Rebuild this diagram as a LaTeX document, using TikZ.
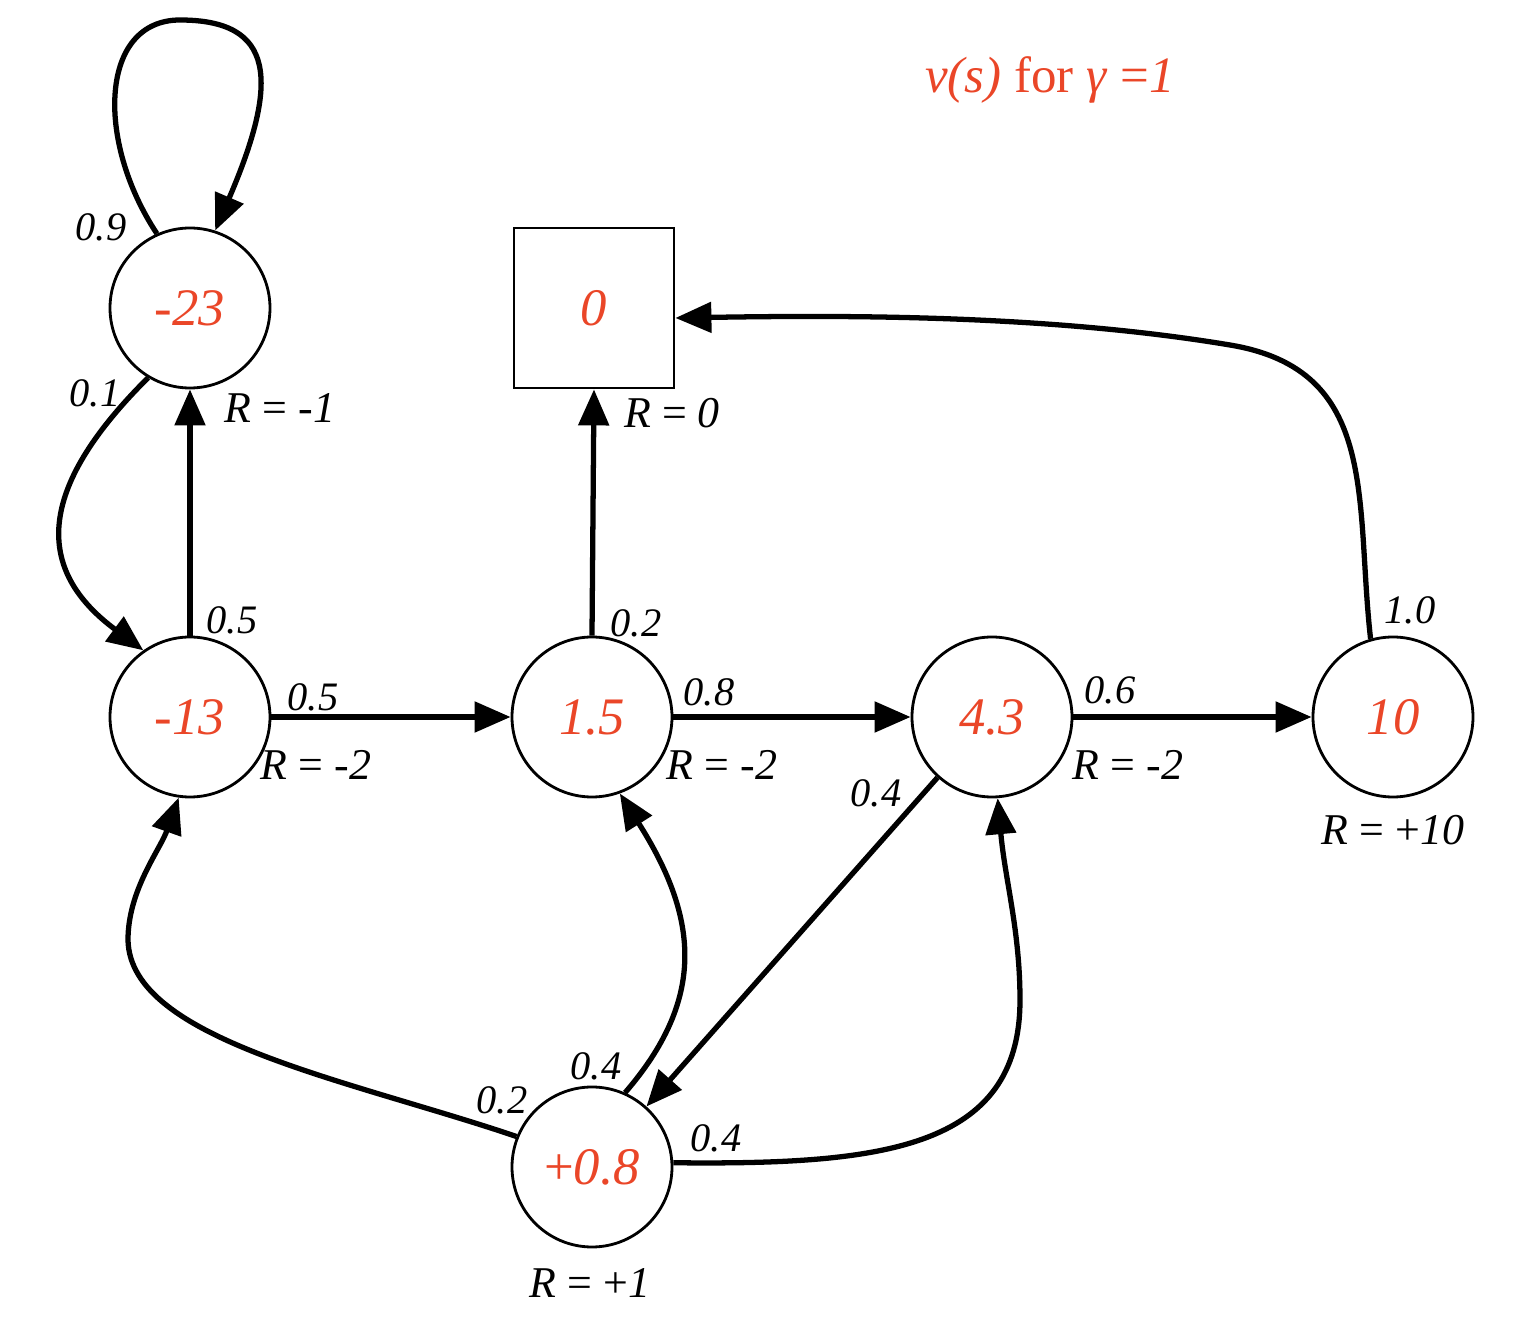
\documentclass[tikz,border=0pt]{standalone}
\usepackage{fontspec}
\setmainfont{Liberation Serif}
\usetikzlibrary{arrows.meta,positioning}
\definecolor{valred}{RGB}{234,70,40}
\newcommand{\upr}[1]{{\upshape #1}}
\newcommand{\rlab}[1]{R \upr{=} #1}

\begin{document}
\begin{tikzpicture}[
    state/.style={draw, circle, line width=0.8pt, minimum size=1.6cm, inner sep=0pt,
      text=valred, font=\fontsize{15}{15}\selectfont\itshape},
    termbox/.style={draw, rectangle, line width=0.8pt, minimum size=1.6cm, inner sep=0pt,
      text=valred, font=\fontsize{15}{15}\selectfont\itshape},
    trans/.style={line width=1.5pt, -{Triangle[length=0.36cm, width=0.3cm]}},
    prob/.style={font=\fontsize{11.5}{11.5}\selectfont\itshape, inner sep=0pt},
    rew/.style={font=\fontsize{12.5}{12.5}\selectfont\itshape, inner sep=0pt}]
        \useasboundingbox (0,0) rectangle (15.14,-13.34);
        \foreach \n/\x/\y/\v in {a/1.90/-3.08/-23, b/1.90/-7.17/-13, c/5.92/-7.17/1.5,
                                 d/9.92/-7.17/4.3, e/13.93/-7.17/10, f/5.92/-11.67/{\upr{+}0.8}}
          \node[state] (\n) at (\x,\y) {\v};
        \node[termbox] (t) at (5.94,-3.08) {0};
        \node[text=valred, font=\fontsize{14.5}{14.5}\selectfont] (title) at (10.50,-0.80)
          {\textit{v(s)} for \textit{γ} =\textit{1}};
        \draw[trans] (a.114) .. controls (0.95,-1.4) and (1.0,-0.2) .. (1.8,-0.2)
          .. controls (2.75,-0.2) and (2.8,-0.8) .. (a.72);
        \draw[trans] (a.239) .. controls (0.35,-4.9) and (0.35,-5.7) .. (b.125);
        \draw[trans] (b.north) -- (a.south);
        \draw[trans] (b.east) -- (c.west);
        \draw[trans] (c.north) -- (t.south);
        \draw[trans] (c.east) -- (d.west);
        \draw[trans] (d.east) -- (e.west);
        \draw[trans] (e.106) .. controls (13.55,-5.0) and (13.8,-3.7) .. (12.3,-3.45)
          .. controls (10.5,-3.15) and (8.5,-3.15) .. (t.-7);
        \draw[trans] (d.228) -- (f.48);
        \draw[trans] (f.158) .. controls (3.5,-10.8) and (1.3,-10.4) .. (1.28,-9.4)
          .. controls (1.28,-8.9) and (1.6,-8.5) .. (b.262);
        \draw[trans] (f.66) .. controls (7.05,-10.0) and (7.0,-9.2) .. (c.-70);
        \draw[trans] (f.3) .. controls (8.8,-11.65) and (10.2,-11.5) .. (10.2,-10.0)
          .. controls (10.2,-9.3) and (10.05,-8.8) .. (d.-86);
        \foreach \x/\y/\p [count=\i] in {1.01/-2.27/0.9, 0.95/-3.93/0.1, 2.32/-6.20/0.5,
                              3.13/-6.97/0.5, 6.36/-6.23/0.2, 7.09/-6.92/0.8,
                              11.10/-6.90/0.6, 14.10/-6.10/1.0, 8.76/-7.93/0.4,
                              5.02/-11.00/0.2, 5.96/-10.66/0.4, 7.16/-11.38/0.4}
          \node[prob] (p\i) at (\x,\y) {\p};
        \foreach \x/\y/\r [count=\i] in {2.80/-4.08/-1, 6.72/-4.13/0, 3.16/-7.65/-2,
                              7.22/-7.65/-2, 11.28/-7.65/-2, 13.93/-8.30/{\upr{+}10},
                              5.90/-12.83/{\upr{+}1}}
          \node[rew] (r\i) at (\x,\y) {\rlab{\r}};
      \end{tikzpicture}
\end{document}
